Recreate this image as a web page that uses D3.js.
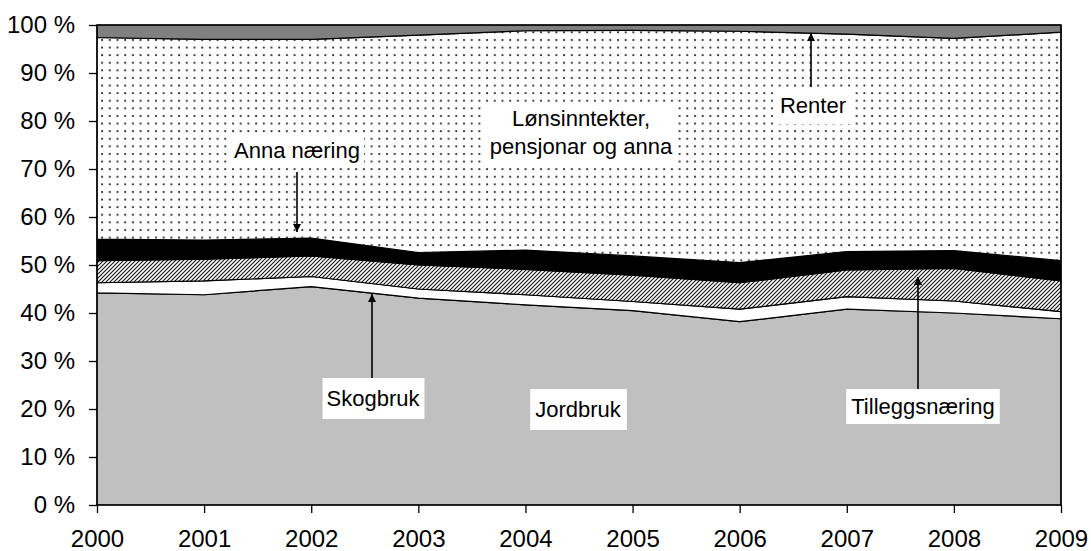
<!DOCTYPE html>
<html>
<head>
<meta charset="utf-8">
<script src="https://cdn.jsdelivr.net/npm/d3@7"></script>
<style>
  body { margin: 0; background: #fff; }
  svg { display: block; font-family: "Liberation Sans", Arial, sans-serif; }
  .axis path { display: none; }
  .axis line { stroke: #000; stroke-width: 1.3; }
  .axis text { font-size: 24px; fill: #000; }
  .lbl { font-size: 22px; fill: #000; }
</style>
</head>
<body>
<svg id="chart" width="1091" height="551"></svg>
<script>
// data, share of income (percent) per year
var years = [2000, 2001, 2002, 2003, 2004, 2005, 2006, 2007, 2008, 2009];
var jordbruk       = [44.2, 43.8, 45.5, 43.1, 41.7, 40.5, 38.2, 40.8, 40.0, 38.8];
var skogbruk       = [2.1, 2.9, 2.1, 1.9, 2.1, 1.9, 2.6, 2.6, 2.5, 1.5];
var tilleggsnaring = [4.6, 4.5, 4.3, 5.0, 5.3, 5.5, 5.5, 5.6, 6.8, 6.4];
var annaNaring     = [4.5, 4.0, 3.7, 2.6, 4.0, 4.0, 4.2, 3.8, 3.7, 4.2];
var lonsinntekter  = [42.0, 41.8, 41.4, 45.3, 45.7, 47.0, 48.2, 45.3, 44.2, 47.6];
var renter         = [2.6, 3.0, 3.0, 2.1, 1.2, 1.1, 1.3, 1.9, 2.8, 1.5];
var yTicks = [0, 0.1, 0.2, 0.3, 0.4, 0.5, 0.6, 0.7, 0.8, 0.9, 1];

var keys = ['jordbruk', 'skogbruk', 'tillegg', 'anna', 'lonn', 'renter'];
var table = years.map(function(yr, i) {
    return {
        year: yr,
        jordbruk: jordbruk[i],
        skogbruk: skogbruk[i],
        tillegg: tilleggsnaring[i],
        anna: annaNaring[i],
        lonn: lonsinntekter[i],
        renter: renter[i]
    };
});

var svg = d3.select('#chart');
var plotL = 97, plotR = 1061, plotT = 25, plotB = 505;

var x = d3.scaleLinear().domain([2000, 2009]).range([plotL, plotR]);
var y = d3.scaleLinear().domain([0, 1]).range([plotB, plotT]);

// patterns
var defs = svg.append('defs');
var dots = defs.append('pattern')
    .attr('id', 'dots')
    .attr('patternUnits', 'userSpaceOnUse')
    .attr('width', 7.7).attr('height', 7.6);
dots.append('rect').attr('width', 7.7).attr('height', 7.6).attr('fill', '#fff');
dots.append('circle').attr('cx', 2).attr('cy', 2).attr('r', 1.1).attr('fill', '#222');

var hatch = defs.append('pattern')
    .attr('id', 'hatch')
    .attr('patternUnits', 'userSpaceOnUse')
    .attr('width', 4).attr('height', 4);
hatch.append('rect').attr('width', 4).attr('height', 4).attr('fill', '#fff');
hatch.append('path')
    .attr('d', 'M-1,1 L1,-1 M0,4 L4,0 M3,5 L5,3')
    .attr('stroke', '#1a1a1a').attr('stroke-width', 1.2);

defs.append('marker')
    .attr('id', 'head')
    .attr('viewBox', '0 0 10 10')
    .attr('refX', 10).attr('refY', 5)
    .attr('markerWidth', 11).attr('markerHeight', 8)
    .attr('markerUnits', 'userSpaceOnUse')
    .attr('orient', 'auto')
    .append('path').attr('d', 'M0,0 L10,5 L0,10 Z').attr('fill', '#000');

var fills = {
    jordbruk: '#c0c0c0',
    skogbruk: '#ffffff',
    tillegg: 'url(#hatch)',
    anna: '#000000',
    lonn: 'url(#dots)',
    renter: '#808080'
};

var stack = d3.stack().keys(keys).offset(d3.stackOffsetExpand);
var layers = stack(table);

var area = d3.area()
    .x(function(d) { return x(d.data.year); })
    .y0(function(d) { return y(d[0]); })
    .y1(function(d) { return y(d[1]); });

svg.append('g').selectAll('path')
    .data(layers)
    .enter().append('path')
    .attr('d', area)
    .attr('fill', function(d) { return fills[d.key]; })
    .attr('stroke', '#000')
    .attr('stroke-width', 1.2)
    .attr('stroke-linejoin', 'round');

// plot border
svg.append('rect')
    .attr('x', plotL).attr('y', plotT)
    .attr('width', plotR - plotL).attr('height', plotB - plotT)
    .attr('fill', 'none').attr('stroke', '#000').attr('stroke-width', 1.4);

// axes
svg.append('g')
    .attr('class', 'axis')
    .attr('transform', 'translate(' + plotL + ',0)')
    .call(d3.axisLeft(y).tickValues(yTicks).tickSize(8).tickPadding(14)
        .tickFormat(function(d) { return Math.round(d * 100) + ' %'; }));

svg.append('g')
    .attr('class', 'axis')
    .attr('transform', 'translate(0,' + plotB + ')')
    .call(d3.axisBottom(x).tickValues(years).tickSize(8).tickPadding(17)
        .tickFormat(d3.format('d')));

// annotations
function arrow(x0, y0, y1) {
    svg.append('line')
        .attr('x1', x0).attr('y1', y0)
        .attr('x2', x0).attr('y2', y1)
        .attr('stroke', '#000').attr('stroke-width', 1.6)
        .attr('marker-end', 'url(#head)');
}

function label(lines, cx, baseline, padX, padY) {
    var g = svg.append('g');
    var bg = g.append('rect').attr('fill', '#fff');
    var t = g.append('text')
        .attr('class', 'lbl')
        .attr('text-anchor', 'middle');
    lines.forEach(function(s, i) {
        t.append('tspan').attr('x', cx).attr('y', baseline + i * 28).text(s);
    });
    var b = t.node().getBBox();
    bg.attr('x', b.x - padX).attr('y', b.y - padY)
      .attr('width', b.width + 2 * padX).attr('height', b.height + 2 * padY);
}

arrow(297, 172, 232);
arrow(372, 379, 294);
arrow(918, 390, 277);
arrow(811, 93, 33);

label(['Anna næring'], 297, 158, 4, 4);
label(['Lønsinntekter,', 'pensjonar og anna'], 581, 126, 4, 4);
label(['Renter'], 813, 113, 5, 6);
label(['Skogbruk'], 373, 406, 4, 8);
label(['Jordbruk'], 578, 417, 5, 8);
label(['Tilleggsnæring'], 923, 414, 5, 5);
</script>
</body>
</html>
